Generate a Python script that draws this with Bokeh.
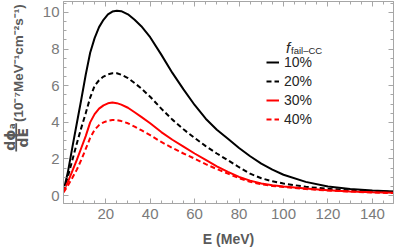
import math
from bokeh.plotting import figure
from bokeh.layouts import row
from bokeh.models import (Range1d, FixedTicker, LinearAxis, Label, Legend,
                          LegendItem, ColumnDataSource, BoxAnnotation,
                          CustomJSTickFormatter)
from bokeh.embed import file_html
from bokeh.resources import INLINE

# ---------------- data ----------------
energy = [1, 3, 5, 7, 9, 11, 13, 15, 17, 19, 21, 23, 25, 27, 30, 33, 36, 40,
          45, 50, 55, 60, 65, 70, 75, 80, 85, 90, 95, 100, 110, 120, 130, 140, 150]

flux_10 = [0.25, 1.3, 2.65, 3.95, 5.25, 6.6, 7.8, 8.6, 9.2, 9.6, 9.9, 10.05, 10.1,
           10.07, 9.9, 9.6, 9.25, 8.65, 7.7, 6.7, 5.8, 4.95, 4.2, 3.6, 3.1, 2.6,
           2.15, 1.75, 1.42, 1.14, 0.75, 0.5, 0.36, 0.28, 0.23]

flux_20 = [0.25, 1.05, 1.95, 2.85, 3.7, 4.5, 5.35, 6.0, 6.3, 6.5, 6.62, 6.68, 6.68,
           6.6, 6.42, 6.15, 5.85, 5.4, 4.75, 4.15, 3.62, 3.15, 2.7, 2.3, 1.93,
           1.55, 1.2, 0.95, 0.78, 0.66, 0.48, 0.37, 0.29, 0.24, 0.2]

flux_30 = [0.22, 0.75, 1.35, 1.95, 2.6, 3.25, 4.0, 4.45, 4.75, 4.93, 5.04, 5.08,
           5.05, 4.97, 4.8, 4.55, 4.3, 3.95, 3.47, 3.05, 2.68, 2.3, 1.95, 1.6,
           1.3, 1.02, 0.82, 0.66, 0.57, 0.5, 0.39, 0.3, 0.23, 0.18, 0.15]

flux_40 = [0.18, 0.55, 0.98, 1.42, 1.95, 2.55, 3.15, 3.6, 3.85, 4.0, 4.09, 4.13,
           4.12, 4.07, 3.95, 3.77, 3.57, 3.3, 2.93, 2.6, 2.3, 2.02, 1.72, 1.45,
           1.2, 0.95, 0.75, 0.62, 0.53, 0.47, 0.36, 0.28, 0.22, 0.17, 0.14]

series_labels = ["10%", "20%", "30%", "40%"]
series_colors = ["#000000", "#000000", "#ff0000", "#ff0000"]
series_dashes = ["solid", "5 3", "solid", "5 3"]

x_ticks = [20, 40, 60, 80, 100, 120, 140]
x_minor = list(range(0, 151, 5))
y_ticks = [0, 2, 4, 6, 8, 10]
y_minor = [i * 0.5 for i in range(-1, 22)]

# ---------------- geometry ----------------
W, H = 395, 249
LW = 30                                   # width of the y-label strip
FL, FR, FT, FB = 63, 393, 1, 204          # frame edges in page pixels
X0, X1 = 1.0, 149.5
Y0, Y1 = -0.43, 10.6


def dx(px):
    return X0 + (px - FL) * (X1 - X0) / (FR - FL)


def dy(py):
    return Y1 - (py - FT) * (Y1 - Y0) / (FB - FT)


frame_c = "#a6a6a6"
tick_txt = "#7a7a7a"
lab_c = "#5a5a5a"

# ---------------- y-label strip (its own small figure) ----------------
q = figure(width=LW, height=H, output_backend="svg", toolbar_location=None,
           x_range=Range1d(0, LW), y_range=Range1d(H, 0),
           x_axis_location=None, y_axis_location=None,
           min_border_left=0, min_border_right=0, min_border_top=0,
           min_border_bottom=0)
q.grid.visible = False
q.outline_line_color = None
q.background_fill_color = "white"
q.border_fill_color = "white"

rot = math.pi / 2
q.add_layout(Label(x=18, y=76,
                   text="(10\u207b\u2077MeV\u207b\u00b9cm\u207b\u00b2s\u207b\u00b9)",
                   text_font="Liberation Sans", text_font_style="bold",
                   text_font_size="13.5px", text_color=lab_c, angle=rot,
                   text_align="center", text_baseline="middle"))
q.add_layout(Label(x=9.5, y=167,
                   text="d\u03d5\u2090", text_font="DejaVu Sans",
                   text_font_style="bold", text_font_size="14px", text_color=lab_c,
                   angle=rot, text_align="center", text_baseline="middle"))
q.add_layout(BoxAnnotation(left=14.8, right=16.6, top=150, bottom=185,
                           fill_color=lab_c, fill_alpha=1, line_alpha=0))
q.add_layout(Label(x=22.5, y=168,
                   text="dE", text_font="DejaVu Sans",
                   text_font_style="bold", text_font_size="14px", text_color=lab_c,
                   angle=rot, text_align="center", text_baseline="middle"))

# ---------------- main figure ----------------
p = figure(width=W - LW, height=H, output_backend="svg", toolbar_location=None,
           x_range=Range1d(X0, X1), y_range=Range1d(Y0, Y1),
           min_border_left=FL - LW, min_border_right=W - FR, min_border_top=FT,
           min_border_bottom=H - FB)
p.grid.visible = False
p.outline_line_color = frame_c
p.background_fill_color = "white"
p.border_fill_color = "white"


def style_axis(ax, show_labels=True):
    ax.axis_line_color = frame_c
    ax.major_tick_line_color = frame_c
    ax.minor_tick_line_color = frame_c
    ax.major_tick_in = 5
    ax.major_tick_out = 0
    ax.minor_tick_in = 3
    ax.minor_tick_out = 0
    if show_labels:
        ax.major_label_text_color = tick_txt
        ax.major_label_text_font = "Liberation Sans"
        ax.major_label_text_font_size = "15px"
    else:
        ax.formatter = CustomJSTickFormatter(code="return ''")
        ax.major_label_standoff = 0


p.xaxis.ticker = FixedTicker(ticks=x_ticks, minor_ticks=x_minor)
p.yaxis.ticker = FixedTicker(ticks=y_ticks, minor_ticks=y_minor)
style_axis(p.xaxis[0])
style_axis(p.yaxis[0])
p.xaxis.major_label_standoff = 5
p.yaxis.major_label_standoff = 4
p.xaxis.axis_label = "E (MeV)"
p.xaxis.axis_label_text_font = "Liberation Sans"
p.xaxis.axis_label_text_font_style = "bold"
p.xaxis.axis_label_text_font_size = "14px"
p.xaxis.axis_label_text_color = lab_c
p.xaxis.axis_label_standoff = 9

top_ax = LinearAxis(ticker=FixedTicker(ticks=x_ticks, minor_ticks=x_minor))
style_axis(top_ax, show_labels=False)
p.add_layout(top_ax, "above")
right_ax = LinearAxis(ticker=FixedTicker(ticks=y_ticks, minor_ticks=y_minor))
style_axis(right_ax, show_labels=False)
p.add_layout(right_ax, "right")

# ---------------- curves ----------------
src = ColumnDataSource(dict(e=energy, f10=flux_10, f20=flux_20, f30=flux_30, f40=flux_40))
items = []
for col, lab, colr, dash in zip(["f10", "f20", "f30", "f40"], series_labels,
                                series_colors, series_dashes):
    r = p.line("e", col, source=src, line_color=colr, line_width=2, line_dash=dash)
    items.append(LegendItem(label=lab, renderers=[r]))

legend = Legend(items=items, location=(203, 76), padding=0, margin=0, spacing=3,
                glyph_width=13, glyph_height=14, label_height=14, label_standoff=5,
                label_text_font="Liberation Sans", label_text_font_size="14px",
                label_text_color="#262626", background_fill_alpha=0,
                border_line_alpha=0)
p.add_layout(legend)

# legend title: f_{fail-CC}
p.add_layout(Label(x=dx(287.5), y=dy(47), text="f",
                   text_font="Liberation Sans", text_font_style="italic",
                   text_font_size="15px", text_color="#262626",
                   text_align="center", text_baseline="middle"))
p.add_layout(Label(x=dx(290.5), y=dy(50), text="fail\u2013CC",
                   text_font="Liberation Sans", text_font_size="9.5px",
                   text_color="#262626", text_align="left", text_baseline="middle"))

layout = row(q, p, spacing=0)
open("out.html", "w").write(file_html(layout, INLINE))
